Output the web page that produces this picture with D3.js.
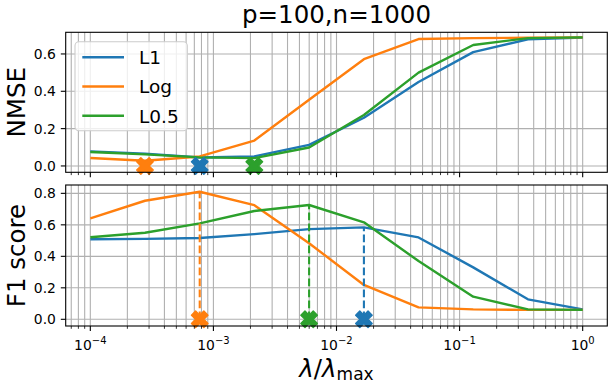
<!DOCTYPE html>
<html>
<head>
<meta charset="utf-8">
<script src="https://cdn.jsdelivr.net/npm/d3@7"></script>
<style>
  body { margin: 0; background: #fff; }
  svg { display: block; font-family: "DejaVu Sans", sans-serif; }
</style>
</head>
<body>
<svg id="chart" width="611" height="391"></svg>
<script>
// lambda / lambda_max grid (10 points)
const lambdas = [1e-4, 2.78e-4, 7.74e-4, 2.15e-3, 5.99e-3, 1.67e-2, 4.64e-2, 0.129, 0.359, 1];

const methods = ['L1', 'Log', 'L0.5'];
const colors = ['#1f77b4', '#ff7f0e', '#2ca02c'];

// NMSE per method
const nmseL1 = [0.078, 0.066, 0.045, 0.051, 0.113, 0.258, 0.450, 0.610, 0.678, 0.688];
const nmseLog = [0.043, 0.028, 0.051, 0.136, 0.355, 0.572, 0.680, 0.685, 0.687, 0.689];
const nmseL05 = [0.075, 0.062, 0.046, 0.042, 0.099, 0.273, 0.500, 0.648, 0.685, 0.689];

// F1 score per method
const f1L1 = [0.508, 0.511, 0.516, 0.541, 0.573, 0.584, 0.520, 0.330, 0.127, 0.063];
const f1Log = [0.641, 0.753, 0.810, 0.725, 0.483, 0.218, 0.076, 0.063, 0.060, 0.060];
const f1L05 = [0.521, 0.550, 0.609, 0.688, 0.726, 0.616, 0.370, 0.144, 0.063, 0.060];

const nmseTicks = [0.0, 0.2, 0.4, 0.6];
const f1Ticks = [0.0, 0.2, 0.4, 0.6, 0.8];
const xTickExps = [-4, -3, -2, -1, 0];

const nmse = [nmseL1, nmseLog, nmseL05];
const f1 = [f1L1, f1Log, f1L05];

const svg = d3.select('#chart');
const left = 65.7, right = 607.3;
const lw = 2.4;

const x = d3.scaleLog().domain([Math.pow(10, -4.2), Math.pow(10, 0.2)]).range([left, right]);
const yTop = d3.scaleLinear().domain([-0.034, 0.716]).range([172.3, 32.3]);
const yBot = d3.scaleLinear().domain([-0.0425, 0.853]).range([326, 185]);

// minor x ticks inside the domain
const minors = [];
for (let e = -5; e <= 0; e++) {
  for (let m = 2; m <= 9; m++) {
    const v = m * Math.pow(10, e);
    if (v >= x.domain()[0] && v <= x.domain()[1]) minors.push(v);
  }
}
const majors = xTickExps.map(e => Math.pow(10, e));

// filled "X" marker
const xMarker = d3.line()([[-1, -2], [0, -1], [1, -2], [2, -1], [1, 0], [2, 1],
  [1, 2], [0, 1], [-1, 2], [-2, 1], [-1, 0], [-2, -1]].map(p => [p[0] * 16.5 / 4, p[1] * 16.5 / 4])) + 'Z';

function panel(y, ticks, data, bestIdx, label, showXLabels, withLegend, withStems) {
  const g = svg.append('g');
  const [y0, y1] = y.range();
  const clipId = 'clip' + label.replace(/\s/g, '');

  g.append('defs').append('clipPath').attr('id', clipId)
    .append('rect').attr('x', left).attr('y', y1).attr('width', right - left).attr('height', y0 - y1);

  // grid
  g.selectAll('.vgrid').data(minors.concat(majors)).enter().append('line')
    .attr('x1', d => x(d)).attr('x2', d => x(d)).attr('y1', y0).attr('y2', y1)
    .attr('stroke', '#b0b0b0').attr('stroke-width', 1.1);
  g.selectAll('.hgrid').data(ticks).enter().append('line')
    .attr('x1', left).attr('x2', right).attr('y1', d => y(d)).attr('y2', d => y(d))
    .attr('stroke', '#b0b0b0').attr('stroke-width', 1.1);

  const plot = g.append('g').attr('clip-path', `url(#${clipId})`);
  const line = d3.line().x((d, i) => x(lambdas[i])).y(d => y(d));
  data.forEach((s, k) => {
    plot.append('path').attr('d', line(s)).attr('fill', 'none')
      .attr('stroke', colors[k]).attr('stroke-width', lw).attr('stroke-linejoin', 'round');
  });

  if (withStems) {
    data.forEach((s, k) => {
      const i = bestIdx[k];
      g.append('line').attr('x1', x(lambdas[i])).attr('x2', x(lambdas[i]))
        .attr('y1', y(0)).attr('y2', y(s[i]))
        .attr('stroke', colors[k]).attr('stroke-width', 2.1).attr('stroke-dasharray', '7.7,3.3');
    });
  }
  data.forEach((s, k) => {
    const i = bestIdx[k];
    g.append('path').attr('d', xMarker)
      .attr('transform', `translate(${x(lambdas[i])},${y(0)})`)
      .attr('fill', colors[k]).attr('stroke', colors[k]).attr('stroke-width', 1.4)
      .attr('stroke-linejoin', 'round');
  });

  // spines
  g.append('rect').attr('x', left).attr('y', y1).attr('width', right - left).attr('height', y0 - y1)
    .attr('fill', 'none').attr('stroke', '#000').attr('stroke-width', 1.1);

  // x ticks
  g.selectAll('.xmaj').data(majors).enter().append('line')
    .attr('x1', d => x(d)).attr('x2', d => x(d)).attr('y1', y0).attr('y2', y0 + 4.9)
    .attr('stroke', '#000').attr('stroke-width', 1.1);
  g.selectAll('.xmin').data(minors).enter().append('line')
    .attr('x1', d => x(d)).attr('x2', d => x(d)).attr('y1', y0).attr('y2', y0 + 2.8)
    .attr('stroke', '#000').attr('stroke-width', 0.8);

  // y ticks
  g.selectAll('.ytk').data(ticks).enter().append('line')
    .attr('x1', left - 4.9).attr('x2', left).attr('y1', d => y(d)).attr('y2', d => y(d))
    .attr('stroke', '#000').attr('stroke-width', 1.1);
  g.selectAll('.ylab').data(ticks).enter().append('text')
    .attr('x', left - 9.8).attr('y', d => y(d) + 4.9)
    .attr('text-anchor', 'end').attr('font-size', 13.9)
    .text(d => d3.format('.1f')(d));

  if (showXLabels) {
    xTickExps.forEach(e => {
      const t = g.append('text').attr('x', x(Math.pow(10, e))).attr('y', y0 + 24)
        .attr('text-anchor', 'middle').attr('font-size', 13.9);
      t.append('tspan').text('10');
      t.append('tspan').attr('dy', -6).attr('font-size', 10)
        .text(e === 0 ? '0' : '\u2212' + Math.abs(e));
    });
  }

  // y label
  g.append('text')
    .attr('transform', `translate(25,${(y0 + y1) / 2}) rotate(-90)`)
    .attr('text-anchor', 'middle').attr('font-size', 24.5)
    .text(label);

  if (withLegend) {
    const lg = g.append('g');
    lg.append('rect').attr('x', 75).attr('y', 41.7).attr('width', 112.3).attr('height', 89)
      .attr('rx', 4).attr('fill', '#fff').attr('fill-opacity', 0.8)
      .attr('stroke', '#cccccc').attr('stroke-width', 1.1);
    methods.forEach((m, k) => {
      const ly = 57.3 + k * 29.2;
      lg.append('line').attr('x1', 82.3).attr('x2', 124).attr('y1', ly).attr('y2', ly)
        .attr('stroke', colors[k]).attr('stroke-width', lw);
      lg.append('text').attr('x', 139).attr('y', ly + 6.8).attr('font-size', 18.5).text(m);
    });
  }
}

const argmin = a => a.indexOf(d3.min(a));
const argmax = a => a.indexOf(d3.max(a));

panel(yTop, nmseTicks, nmse, nmse.map(argmin), 'NMSE', false, true, false);
panel(yBot, f1Ticks, f1, f1.map(argmax), 'F1 score', true, false, true);

// title
svg.append('text').attr('x', (left + right) / 2).attr('y', 22.7)
  .attr('text-anchor', 'middle').attr('font-size', 24.5).text('p=100,n=1000');

// x label: lambda / lambda_max
const xl = svg.append('text').attr('x', (left + right) / 2).attr('y', 376.5)
  .attr('text-anchor', 'middle').attr('font-size', 24.5);
xl.append('tspan').attr('font-style', 'italic').text('\u03bb');
xl.append('tspan').text('/');
xl.append('tspan').attr('font-style', 'italic').text('\u03bb');
xl.append('tspan').attr('font-size', 17).attr('dy', 3.5).text('max');
</script>
</body>
</html>
